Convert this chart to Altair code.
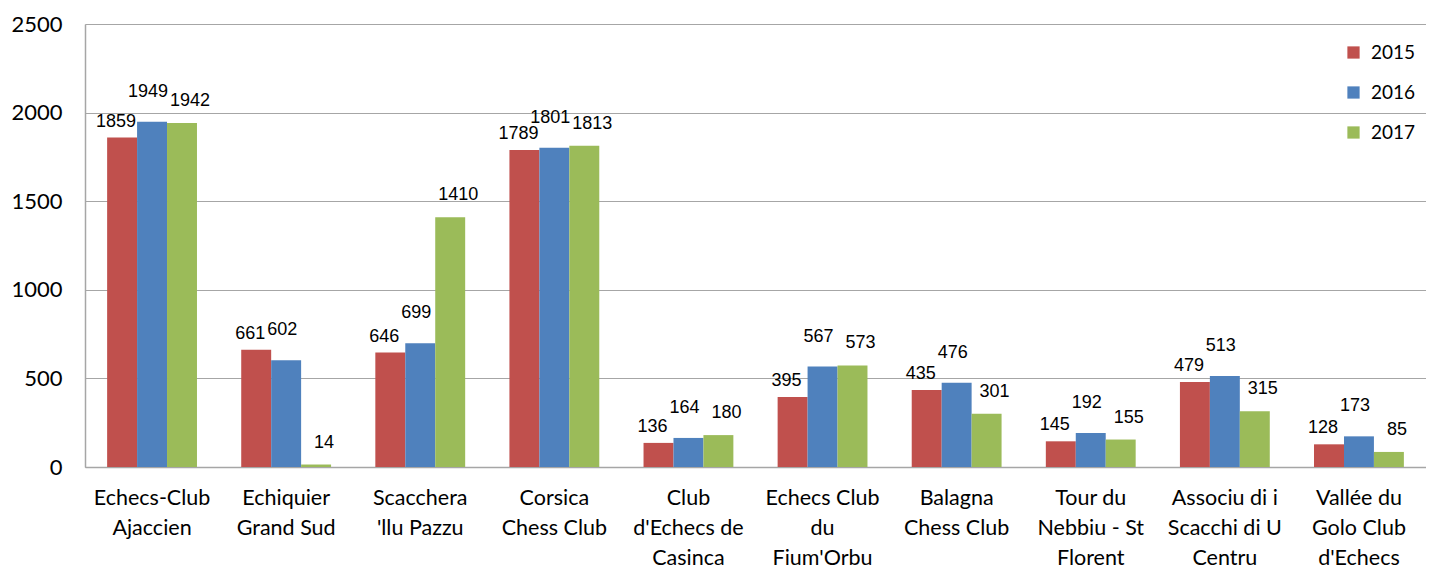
import altair as alt
import pandas as pd

clubs = [
    "Echecs-Club\nAjaccien",
    "Echiquier\nGrand Sud",
    "Scacchera\n'llu Pazzu",
    "Corsica\nChess Club",
    "Club\nd'Echecs de\nCasinca",
    "Echecs Club\ndu\nFium'Orbu",
    "Balagna\nChess Club",
    "Tour du\nNebbiu - St\nFlorent",
    "Associu di i\nScacchi di U\nCentru",
    "Vallée du\nGolo Club\nd'Echecs",
]
years = ["2015", "2016", "2017"]
v2015 = [1859, 661, 646, 1789, 136, 395, 435, 145, 479, 128]
v2016 = [1949, 602, 699, 1801, 164, 567, 476, 192, 513, 173]
v2017 = [1942, 14, 1410, 1813, 180, 573, 301, 155, 315, 85]
colors = ["#C0504D", "#4F81BD", "#9BBB59"]

rows = []
for yr, vals in zip(years, [v2015, v2016, v2017]):
    for c, v in zip(clubs, vals):
        rows.append({"club": c, "year": yr, "value": v})
df = pd.DataFrame(rows)

x_enc = alt.X(
    "club:N",
    sort=clubs,
    scale=alt.Scale(paddingInner=0.33, paddingOuter=0.165),
    axis=alt.Axis(
        title=None,
        labelAngle=0,
        ticks=False,
        labelExpr="split(datum.label, '\\n')",
        labelFont="Lato",
        labelFontSize=21.5,
        labelColor="#000000",
        labelPadding=20,
        labelBaseline="top",
        labelLineHeight=30,
        labelLimit=300,
        domainColor="#A6A6A6",
        domainWidth=1.5,
        grid=False,
    ),
)
y_enc = alt.Y(
    "value:Q",
    scale=alt.Scale(domain=[0, 2500], nice=False),
    axis=alt.Axis(
        title=None,
        values=[0, 500, 1000, 1500, 2000, 2500],
        format="d",
        ticks=False,
        labelFont="Lato",
        labelFontSize=22,
        labelColor="#000000",
        labelPadding=23,
        domainColor="#A6A6A6",
        domainWidth=1.5,
        gridColor="#A6A6A6",
        gridWidth=1.2,
    ),
)

bars = alt.Chart(df).mark_bar().encode(
    x=x_enc,
    xOffset=alt.XOffset("year:N", sort=years, scale=alt.Scale(paddingInner=0, paddingOuter=0)),
    y=y_enc,
    color=alt.Color(
        "year:N",
        sort=years,
        scale=alt.Scale(domain=years, range=colors),
        legend=alt.Legend(
            title=None,
            orient="none",
            legendX=1259,
            legendY=19,
            symbolType="square",
            symbolSize=150,
            symbolStrokeWidth=0,
            labelFont="Lato",
            labelFontSize=19,
            labelColor="#000000",
            rowPadding=20,
            labelOffset=8,
        ),
    ),
)

# per-series label nudges (Excel-style staggering to keep labels apart)
label_style = {"2015": (-6, -16), "2016": (-4, -30), "2017": (8, -22)}
label_layers = []
for yr in years:
    dx, dy = label_style[yr]
    label_layers.append(
        alt.Chart(df)
        .transform_filter(alt.datum.year == yr)
        .mark_text(font="Liberation Sans", fontSize=18, color="#000000", baseline="middle", dx=dx, dy=dy)
        .encode(
            x=alt.X("club:N", sort=clubs),
            xOffset=alt.XOffset("year:N", sort=years, scale=alt.Scale(domain=years)),
            y=alt.Y("value:Q"),
            text="value:Q",
        )
    )

chart = (
    alt.layer(bars, *label_layers)
    .properties(
        width=1341,
        height=443,
        autosize=alt.AutoSizeParams(type="none"),
        padding={"left": 77, "top": 16, "right": 0, "bottom": 104},
    )
    .configure_view(stroke=None)
    .configure(background="#FFFFFF")
)

chart.save("out.html", embed_options={"renderer": "svg", "actions": False})
